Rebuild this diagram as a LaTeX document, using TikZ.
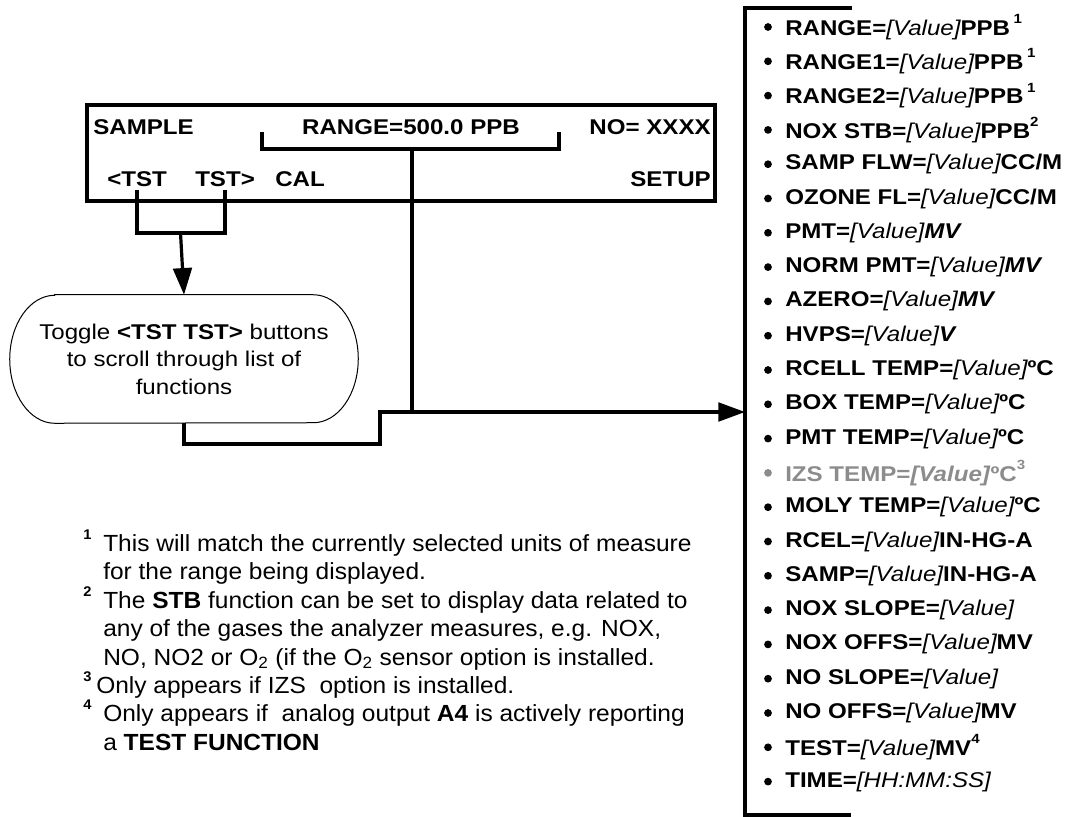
\documentclass[tikz,border=0pt]{standalone}
\usepackage{fontspec}
\setmainfont{Liberation Sans}
\newfontfamily\dispfont{Liberation Sans}[FakeStretch=1.13]
\newfontfamily\notefont{Liberation Sans}[FakeStretch=1.05]
\usetikzlibrary{arrows.meta}
\definecolor{optgray}{RGB}{140,140,140}
\newcommand{\val}{{\mdseries\itshape[Value]}}
\newcommand{\fnm}[1]{\raisebox{0.55em}{\fontsize{10}{10}\selectfont #1}}
\newcommand{\notemark}[2][15pt]{\makebox[#1][l]{\raisebox{0.5em}{\fontsize{10.5}{11}\selectfont\bfseries #2}}}
\tikzset{
  panel/.style={draw, line width=2.4pt},
  wire/.style={line width=2.4pt},
  disp/.style={font=\dispfont\fontsize{16}{19}\selectfont\bfseries, inner sep=3pt, anchor=base west},
  item/.style={font=\dispfont\fontsize{16}{19}\selectfont\bfseries, inner sep=0pt, anchor=west},
  note/.style={font=\notefont\fontsize{17.5}{21}\selectfont, inner sep=0pt, anchor=base west},
}

\begin{document}
\begin{tikzpicture}[x=0.75pt, y=-0.75pt, >={Triangle[length=20pt,width=14pt]}]
  \useasboundingbox (0,0) rectangle (1068,817);

  % front panel display
  \node[panel, minimum width=471pt, minimum height=72pt] (lcd) at (401,153) {};
  \node[disp] (smp) at (89,135) {SAMPLE};
  \node[disp, anchor=base] (rng) at (411,135) {RANGE=500.0 PPB};
  \node[disp, anchor=base east] (nox) at (715,135) {NO= XXXX};
  \node[disp] (tstl) at (103,186) {<TST};
  \node[disp] (tstr) at (191,186) {TST>};
  \node[disp] (cal) at (271,186) {CAL};
  \node[disp, anchor=base east] (setup) at (715,186) {SETUP};

  % toggle hint
  \node[minimum width=261pt, minimum height=96pt, align=center,
        font=\dispfont\fontsize{16}{20.6}\selectfont] (toggle) at (184,359)
        {Toggle \textbf{<TST TST>} buttons\\to scroll through list of\\functions};
  \draw[line width=0.75pt] ([xshift=33.75pt]toggle.north west) -- ([xshift=-33.75pt]toggle.north east)
    arc[start angle=90, end angle=-90, x radius=33.75pt, y radius=48pt]
    -- ([xshift=33.75pt]toggle.south west)
    arc[start angle=270, end angle=90, x radius=33.75pt, y radius=48pt] -- cycle;

  % connectors
  \coordinate (tj) at (180.5,233);
  \coordinate (bl) at (262,132);
  \coordinate (br) at (559,132);
  \coordinate (bc) at (412,149);
  \coordinate (stp) at (380,444);
  \coordinate (listin) at (745,412);
  \draw[wire] (tstl.south) |- (tj) -| (tstr.south);
  \draw[wire, ->] (tj) -- (toggle.north);
  \draw[wire] (bl) |- (bc) -| (br);
  \draw[wire] (bc) -- (bc |- listin);
  \draw[wire, ->] (toggle.south) |- (stp) |- (listin);

  % test function list
  \draw[wire] (852,8) -| (745,815) -- (851,815);
  \foreach \txt [count=\i] in {
    {RANGE=\val PPB\,\fnm{1}},
    {RANGE1=\val PPB\,\fnm{1}},
    {RANGE2=\val PPB\,\fnm{1}},
    {NOX STB=\val PPB\fnm{2}},
    {SAMP FLW=\val CC/M},
    {OZONE FL=\val CC/M},
    {PMT=\val\textit{MV}},
    {NORM PMT=\val\textit{MV}},
    {AZERO=\val\textit{MV}},
    {HVPS=\val\textit{V}},
    {RCELL TEMP=\val ºC},
    {BOX TEMP=\val ºC},
    {PMT TEMP=\val ºC},
    {\color{optgray}IZS TEMP=\textit{[Value]}ºC\fnm{3}},
    {MOLY TEMP=\val ºC},
    {RCEL=\val IN-HG-A},
    {SAMP=\val IN-HG-A},
    {NOX SLOPE=\val},
    {NOX OFFS=\val MV},
    {NO SLOPE=\val},
    {NO OFFS=\val MV},
    {TEST=\val MV\fnm{4}},
    {TIME={\mdseries\itshape[HH:MM:SS]}}
  }{
    \ifnum\i=14 \fill[optgray] (768,{27+34.3*(\i-1)}) circle[radius=2.9pt];
    \else \fill (768,{27+34.3*(\i-1)}) circle[radius=2.9pt]; \fi
    \node[item] (f\i) at (785,{27+34.3*(\i-1)}) {\txt};
  }

  % footnotes
  \node[note] (n1a) at (83,551) {\notemark{1}This will match the currently selected units of measure};
  \node[note] (n1b) at (103,579) {for the range being displayed.};
  \node[note] (n2a) at (83,608) {\notemark{2}The \textbf{STB} function can be set to display data related to};
  \node[note] (n2b) at (103,636) {any of the gases the analyzer measures, e.g. NOX,};
  \node[note] (n2c) at (103,665) {NO, NO2 or O\textsubscript{2} (if the O\textsubscript{2} sensor option is installed.};
  \node[note] (n3a) at (83,693) {\notemark[9.75pt]{3}Only appears if IZS\ \ option is installed.};
  \node[note] (n4a) at (83,721) {\notemark{4}Only appears if\ \ analog output \textbf{A4} is actively reporting};
  \node[note] (n4b) at (103,750) {a \textbf{TEST FUNCTION}};
\end{tikzpicture}
\end{document}
